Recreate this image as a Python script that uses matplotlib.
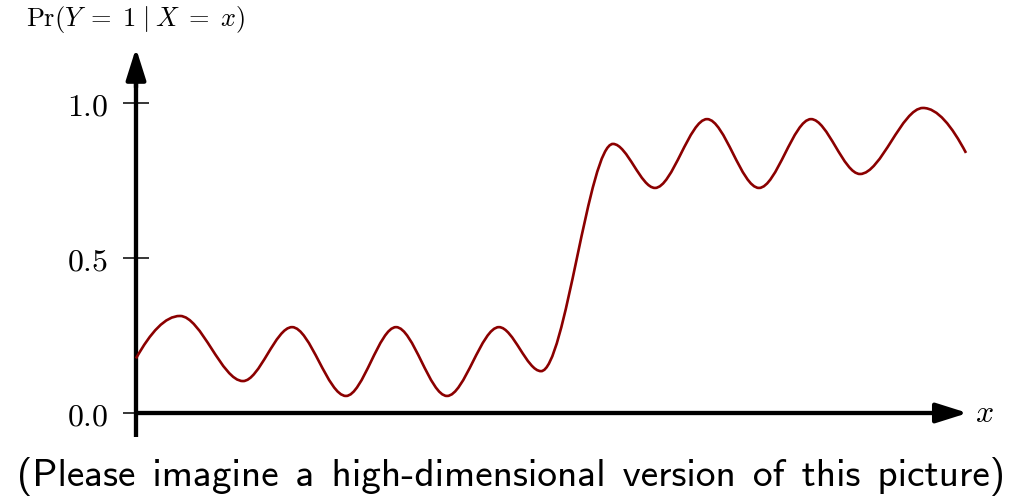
import matplotlib
matplotlib.use("Agg")
import matplotlib.pyplot as plt
from matplotlib.path import Path
from matplotlib.patches import PathPatch
import numpy as np

plt.rcParams['mathtext.fontset'] = 'cm'

# Curve values (ends, turning points)
x_vals = [0.000, 0.530, 1.289, 1.880, 2.530, 3.133, 3.747, 4.373,
          4.880, 5.747, 6.253, 6.880, 7.506, 8.133, 8.723, 9.482, 10.000]
p_vals = [0.176, 0.313, 0.103, 0.277, 0.055, 0.277, 0.055, 0.277,
          0.135, 0.868, 0.726, 0.948, 0.726, 0.948, 0.771, 0.984, 0.839]

y_ticks = [0.0, 0.5, 1.0]
y_tick_labels = ["$0.0$", "$0.5$", "$1.0$"]
y_label = r"$\mathrm{Pr}(Y\;=\;1\;|\;X\;=\;x)$"
x_label = r"$x$"
caption = "(Please imagine a high-dimensional version of this picture)"

fig = plt.figure(figsize=(10.11, 5.01), dpi=100)
ax = fig.add_axes([0, 0, 1, 1])
ax.set_xlim(-136 / 83, 875 / 83)
ax.set_ylim((413 - 501) / 310, 413 / 310)
ax.patch.set_alpha(0)

for s in ['top', 'right']:
    ax.spines[s].set_visible(False)
ax.spines['left'].set_position(('data', 0))
ax.spines['bottom'].set_position(('data', 0))
ax.spines['left'].set_bounds(-0.077, 1.10)
ax.spines['bottom'].set_bounds(0, 9.8)
for s in ['left', 'bottom']:
    ax.spines[s].set_linewidth(3.1)
    ax.spines[s].set_capstyle('butt')

ax.set_xticks([])
ax.set_yticks(y_ticks, labels=y_tick_labels)
ax.tick_params(axis='y', direction='inout', length=19, width=1.1, pad=10.5,
               labelsize=23, color='black')

# arrow heads
arrow_kw = dict(arrowstyle='-|>,head_length=0.95,head_width=0.3', mutation_scale=20,
                lw=3.1, color='black', shrinkA=0, shrinkB=0)
ax.annotate('', xy=(0, 1.177), xytext=(0, 1.05), arrowprops=arrow_kw)
ax.annotate('', xy=(10.02, 0), xytext=(9.7, 0), arrowprops=arrow_kw)

# smooth shape-preserving cubic (PCHIP) through the read points, drawn as a Bezier path
xs = np.asarray(x_vals, float)
ys = np.asarray(p_vals, float)
h = np.diff(xs)
d = np.diff(ys) / h
m = np.zeros_like(ys)
for k in range(1, len(xs) - 1):
    if d[k - 1] * d[k] <= 0:
        m[k] = 0.0
    else:
        w1 = 2 * h[k] + h[k - 1]
        w2 = h[k] + 2 * h[k - 1]
        m[k] = (w1 + w2) / (w1 / d[k - 1] + w2 / d[k])


def end_slope(h0, h1, d0, d1):
    s = ((2 * h0 + h1) * d0 - h0 * d1) / (h0 + h1)
    if np.sign(s) != np.sign(d0):
        return 0.0
    if np.sign(d0) != np.sign(d1) and abs(s) > 3 * abs(d0):
        return 3 * d0
    return s


m[0] = end_slope(h[0], h[1], d[0], d[1])
m[-1] = end_slope(h[-1], h[-2], d[-1], d[-2])

verts = [(xs[0], ys[0])]
codes = [Path.MOVETO]
for k in range(len(xs) - 1):
    verts += [(xs[k] + h[k] / 3, ys[k] + m[k] * h[k] / 3),
              (xs[k + 1] - h[k] / 3, ys[k + 1] - m[k + 1] * h[k] / 3),
              (xs[k + 1], ys[k + 1])]
    codes += [Path.CURVE4] * 3
ax.add_patch(PathPatch(Path(verts, codes), fill=False, edgecolor='#8b0000',
                       lw=1.9, capstyle='butt', zorder=3))

ax.text(0, 1.268, y_label, ha='center', va='center', fontsize=19)
ax.text(10.11, 0, x_label, ha='left', va='center', fontsize=23)

fig.text(511 / 1011, 1 - 486 / 501, caption.replace(' ', ' \u200a'),
         ha='center', va='baseline', fontsize=28.3, family=['cmss10', 'DejaVu Sans'])

fig.savefig('out.png', dpi=100)
